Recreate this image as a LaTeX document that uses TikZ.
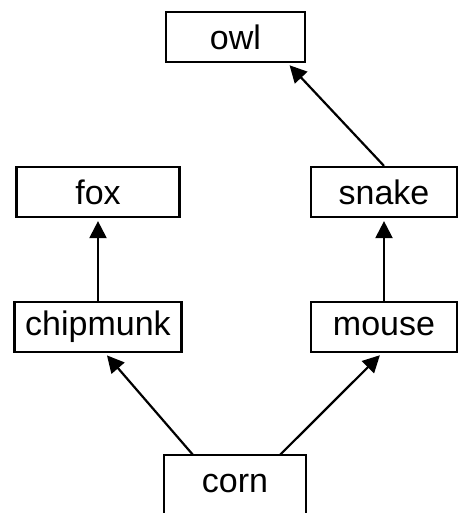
\documentclass[tikz,border=0pt]{standalone}
\usepackage{fontspec}
\setmainfont{Liberation Sans}
\usetikzlibrary{arrows.meta}
\begin{document}
\begin{tikzpicture}[x=1pt,y=-1pt,
  box/.style={draw, line width=2.2pt, inner sep=0pt, minimum height=50pt, font=\fontsize{34}{40}\selectfont},
  arr/.style={line width=2.2pt, -{Triangle[length=17pt,width=17pt]}, shorten >=3pt}]
\useasboundingbox (0,0) rectangle (466,513);
\node[box, minimum width=139pt] (owl) at (235.5,37) {owl};
\node[box, minimum width=163pt] (fox) at (98,192) {fox};
\node[box, minimum width=146pt] (snake) at (384,192) {snake};
\node[box, minimum width=167pt] (chipmunk) at (98,327) {chipmunk};
\node[box, minimum width=146pt] (mouse) at (384,327) {mouse};
\node[box, draw=none, minimum width=140pt, minimum height=56pt] (corn) at (235,484) {corn};
\draw[line width=2.2pt] ([yshift=-40pt]corn.south west) -- (corn.north west) -- (corn.north east) -- ([yshift=-40pt]corn.south east);
\draw[arr] ([xshift=-42pt]corn.north) -- ([xshift=7pt]chipmunk.south);
\draw[arr] ([xshift=45pt]corn.north) -- ([xshift=-2pt]mouse.south);
\draw[arr] (chipmunk.north) -- (fox.south);
\draw[arr] (mouse.north) -- (snake.south);
\draw[arr] (snake.north) -- ([xshift=52pt]owl.south);
\end{tikzpicture}
\end{document}
